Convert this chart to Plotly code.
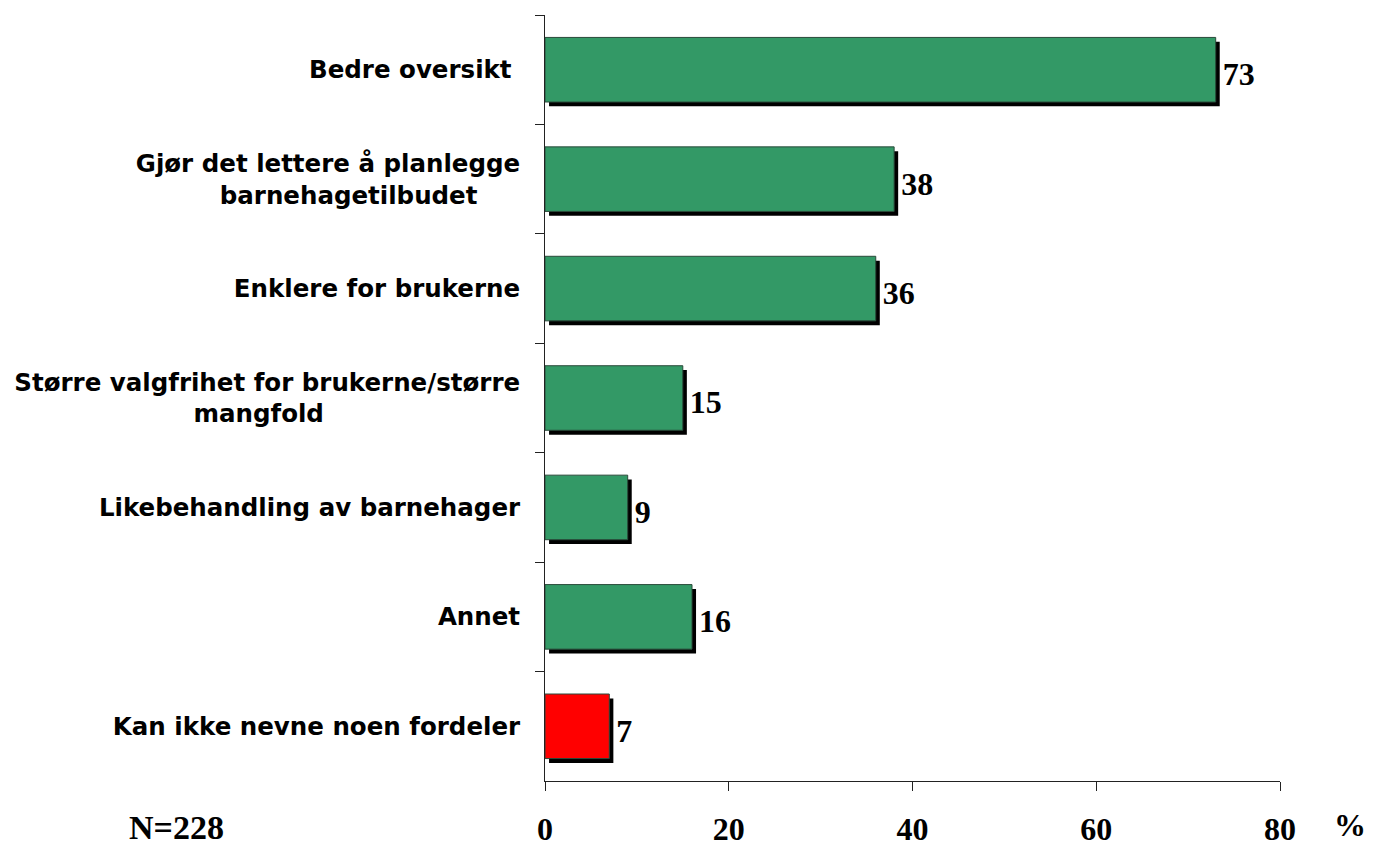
import plotly.graph_objects as go

NB = "\u00a0"
categories = [
    "Bedre oversikt" + NB,
    "Gjør det lettere å planlegge<br>barnehagetilbudet" + NB * 5,
    "Enklere for brukerne",
    "Større valgfrihet for brukerne/større<br>mangfold" + NB * 23,
    "Likebehandling av barnehager",
    "Annet",
    "Kan ikke nevne noen fordeler",
]
values = [73, 38, 36, 15, 9, 16, 7]
colors = ["#339966"] * 6 + ["#FF0000"]
x_ticks = [0, 20, 40, 60, 80]

BAR_W = 0.59
SHIFT_X = 0.44      # shadow shift, data units
SHIFT_Y = 0.04      # shadow shift, category units

fig = go.Figure()

# shadow
fig.add_trace(go.Bar(
    y=categories, x=values, base=[SHIFT_X] * len(values), orientation="h",
    width=BAR_W, offset=-BAR_W / 2 + SHIFT_Y,
    marker=dict(color="black", line=dict(width=0)),
    text=[str(v) for v in values], textposition="outside",
    textfont=dict(family="Liberation Serif", size=32, color="black", weight="bold"),
    constraintext="none", cliponaxis=False, hoverinfo="skip", showlegend=False,
))
# main bars
fig.add_trace(go.Bar(
    y=categories, x=values, orientation="h",
    width=BAR_W, offset=-BAR_W / 2,
    marker=dict(color=colors, line=dict(color="#2a4a3a", width=1)),
    showlegend=False,
))

fig.update_layout(
    barmode="overlay",
    width=1379, height=845,
    margin=dict(l=537, r=107, t=7, b=72),
    paper_bgcolor="white", plot_bgcolor="white",
    xaxis=dict(
        range=[0, 80], tickvals=x_ticks, ticktext=[str(t) for t in x_ticks],
        showgrid=False, zeroline=False, showline=True, linecolor="#222", linewidth=1,
        ticks="outside", ticklen=9, tickcolor="#222", automargin=False,
        tickfont=dict(family="Liberation Serif", size=32, color="black", weight="bold"),
        ticklabelstandoff=11,
    ),
    yaxis=dict(
        type="category", categoryorder="array", categoryarray=categories,
        autorange="reversed", showgrid=False, zeroline=False,
        showline=True, linecolor="#222", linewidth=1, automargin=False,
        ticks="outside", ticklen=9, tickcolor="#222", tickson="boundaries",
        tickfont=dict(family="DejaVu Sans", size=24.5, color="black", weight="bold"),
        ticklabelstandoff=19,
    ),
    annotations=[
        dict(text="%", xref="paper", yref="paper", x=1.095, y=-0.058,
             showarrow=False, xanchor="center", yanchor="middle",
             font=dict(family="Liberation Serif", size=32, color="black", weight="bold")),
        dict(text="N=228", xref="paper", yref="paper", x=-0.502, y=-0.061,
             showarrow=False, xanchor="center", yanchor="middle",
             font=dict(family="Liberation Serif", size=34, color="black", weight="bold")),
    ],
)

fig.write_html("out.html")
